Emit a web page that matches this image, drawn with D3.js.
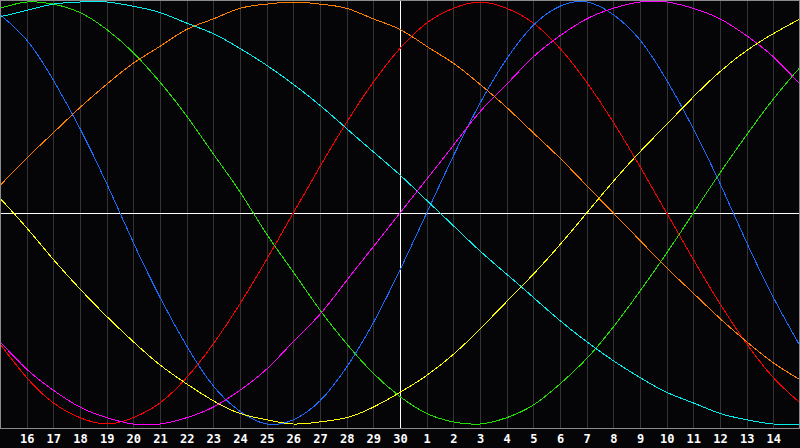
<!DOCTYPE html>
<html>
<head>
<meta charset="utf-8">
<script src="https://cdn.jsdelivr.net/npm/d3@7"></script>
<style>
  html, body { margin: 0; padding: 0; background: #050508; }
  svg { display: block; }
</style>
</head>
<body>
<svg id="chart" width="800" height="448"></svg>
<script>
// day labels shown under the grid lines (index 1..29)
const dayLabels = ['16', '17', '18', '19', '20', '21', '22', '23', '24', '25', '26', '27', '28', '29', '30',
  '1', '2', '3', '4', '5', '6', '7', '8', '9', '10', '11', '12', '13', '14'];

// one value per day, index 0 = 15th (left edge) .. index 30 = 15th of next month (right edge)
const red = [-62, -78, -90, -97, -100, -97, -90, -78, -62, -43, -22, 0, 22, 43, 62, 78,
  90, 97, 100, 97, 90, 78, 62, 43, 22, 0, -22, -43, -62, -78, -90];
const green = [97, 100, 99, 95, 87, 76, 62, 46, 28, 10, -10, -28, -46, -62, -76, -87,
  -95, -99, -100, -97, -91, -81, -69, -54, -37, -19, 0, 19, 37, 54, 69];
const blue = [94, 82, 63, 40, 14, -14, -40, -63, -82, -94, -100, -98, -89, -73, -52, -27,
  0, 27, 52, 73, 89, 98, 100, 94, 82, 63, 40, 14, -14, -40, -63];
const cyan = [93, 96, 99, 100, 100, 98, 95, 90, 85, 78, 70, 61, 51, 40, 29, 18,
  6, -6, -18, -29, -40, -51, -61, -70, -78, -85, -90, -95, -98, -100, -100];
const magenta = [-61, -74, -84, -92, -97, -100, -100, -97, -92, -84, -74, -61, -48, -32, -16, 0,
  16, 32, 48, 61, 74, 84, 92, 97, 100, 100, 97, 92, 84, 74, 61];
const yellow = [7, -7, -22, -36, -49, -61, -72, -81, -89, -95, -98, -100, -99, -97, -92, -85,
  -77, -67, -55, -42, -29, -15, 0, 15, 29, 42, 55, 67, 77, 85, 92];
const orange = [13, 26, 38, 50, 61, 71, 79, 87, 92, 97, 99, 100, 99, 97, 92, 87,
  79, 71, 61, 50, 38, 26, 13, 0, -13, -26, -38, -50, -61, -71, -79];

const series = [
  { values: red, color: '#ff0000' },
  { values: green, color: '#22e000' },
  { values: blue, color: '#1a6cff' },
  { values: cyan, color: '#00f0f0' },
  { values: magenta, color: '#ff00ff' },
  { values: yellow, color: '#ffff00' },
  { values: orange, color: '#ff8000' }
];

const width = 800;
const plotBottom = 428;

const svg = d3.select('#chart');
const x = d3.scaleLinear().domain([0, 30]).range([0, width]);
const y = d3.scaleLinear().domain([-100, 100]).range([424, 2]);

const gridIdx = d3.range(1, 30);

// vertical day grid
svg.append('g')
  .selectAll('line')
  .data(gridIdx)
  .enter().append('line')
  .attr('x1', d => Math.round(x(d)) + 0.5)
  .attr('x2', d => Math.round(x(d)) + 0.5)
  .attr('y1', 0)
  .attr('y2', plotBottom)
  .attr('stroke', d => d === 15 ? '#ffffff' : '#343434')
  .attr('shape-rendering', 'crispEdges');

// zero line
svg.append('line')
  .attr('x1', 0)
  .attr('x2', width)
  .attr('y1', Math.round(y(0)) + 0.5)
  .attr('y2', Math.round(y(0)) + 0.5)
  .attr('stroke', '#ffffff')
  .attr('shape-rendering', 'crispEdges');

const line = d3.line()
  .x((d, i) => x(i))
  .y(d => y(d))
  .curve(d3.curveNatural);

svg.append('g')
  .selectAll('path')
  .data(series)
  .enter().append('path')
  .attr('d', d => line(d.values))
  .attr('fill', 'none')
  .attr('stroke', d => d.color)
  .attr('stroke-width', 1)
  .attr('shape-rendering', 'crispEdges');

// frame
svg.append('rect')
  .attr('x', 0.5)
  .attr('y', 0.5)
  .attr('width', 799)
  .attr('height', plotBottom)
  .attr('fill', 'none')
  .attr('stroke', '#8c8c8c')
  .attr('shape-rendering', 'crispEdges');

// day labels
const axis = d3.axisBottom(x)
  .tickValues(gridIdx)
  .tickFormat(d => dayLabels[d - 1])
  .tickSize(0)
  .tickPadding(6);

const ax = svg.append('g')
  .attr('transform', `translate(0,${plotBottom})`)
  .call(axis);
ax.select('.domain').remove();
ax.selectAll('text')
  .attr('fill', '#ffffff')
  .style('font-family', '"DejaVu Sans Mono", monospace')
  .style('font-weight', 'bold')
  .style('font-size', '12px');
</script>
</body>
</html>
